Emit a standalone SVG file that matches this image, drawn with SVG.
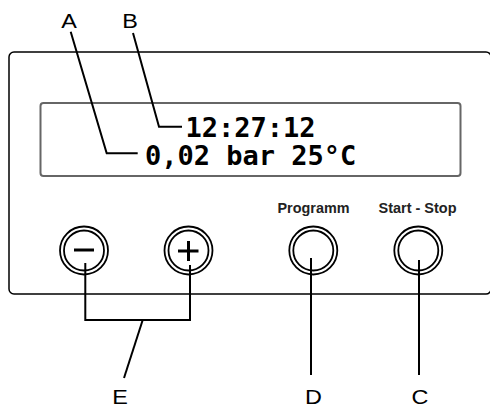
<svg xmlns="http://www.w3.org/2000/svg" width="490" height="407" viewBox="0 0 490 407">
<style>
.lbl{font-family:"Liberation Sans",Arial,sans-serif;font-size:19.5px;fill:#000}
.btn{font-family:"Liberation Sans",Arial,sans-serif;font-size:14.5px;font-weight:bold;fill:#222;text-anchor:middle}
.lcd{font-family:"DejaVu Sans Mono",monospace;font-size:27px;font-weight:bold;fill:#000}
.ring{fill:#fff;stroke:#000;stroke-width:1.8}
.lead{fill:none;stroke:#000;stroke-width:2}
</style>
<rect id="panel" x="9" y="52" width="482" height="242" rx="5" fill="#fff" stroke="#000" stroke-width="1.5"/>
<g id="display">
<rect x="40.5" y="103" width="420" height="73" rx="3" fill="#fff" stroke="#666" stroke-width="2"/>
<text class="lcd" x="185.5" y="137">12:27:12</text>
<text class="lcd" x="145" y="165">0,02 bar 25°C</text>
</g>
<g id="btn-minus">
<circle class="ring" cx="84" cy="250.5" r="24"/>
<circle class="ring" cx="84" cy="250.5" r="20"/>
<line x1="74" y1="250" x2="94" y2="250" stroke="#000" stroke-width="3"/>
</g>
<g id="btn-plus">
<circle class="ring" cx="188.5" cy="250.5" r="24"/>
<circle class="ring" cx="188.5" cy="250.5" r="20"/>
<line x1="178" y1="251" x2="198.5" y2="251" stroke="#000" stroke-width="3"/>
<line x1="188.5" y1="241" x2="188.5" y2="261" stroke="#000" stroke-width="3"/>
</g>
<g id="btn-programm">
<circle class="ring" cx="313.3" cy="250.5" r="24"/>
<circle class="ring" cx="313.3" cy="250.5" r="20"/>
<text class="btn" x="313.5" y="213" textLength="72" lengthAdjust="spacingAndGlyphs">Programm</text>
</g>
<g id="btn-startstop">
<circle class="ring" cx="418.3" cy="250.5" r="24"/>
<circle class="ring" cx="418.3" cy="250.5" r="20"/>
<text class="btn" x="417.5" y="213" textLength="78" lengthAdjust="spacingAndGlyphs">Start - Stop</text>
</g>
<g id="connectors">
<polyline class="lead" points="70.7,31.7 106.7,153.3 137.7,153.3"/>
<polyline class="lead" points="133,33 159,126.7 182,126.7"/>
<polyline class="lead" points="85.3,263 85.3,320 190,320 190,265"/>
<line class="lead" x1="142.7" y1="320" x2="124" y2="378"/>
<line class="lead" x1="311" y1="258" x2="311" y2="375"/>
<line class="lead" x1="419" y1="260" x2="419" y2="375"/>
</g>
<g id="labels">
<text class="lbl" transform="translate(69,27.5) scale(1.2,1)" text-anchor="middle">A</text>
<text class="lbl" transform="translate(130,27.5) scale(1.2,1)" text-anchor="middle">B</text>
<text class="lbl" transform="translate(120,403.5) scale(1.2,1)" text-anchor="middle">E</text>
<text class="lbl" transform="translate(313.5,403.5) scale(1.2,1)" text-anchor="middle">D</text>
<text class="lbl" transform="translate(420,403.5) scale(1.2,1)" text-anchor="middle">C</text>
</g>
</svg>
